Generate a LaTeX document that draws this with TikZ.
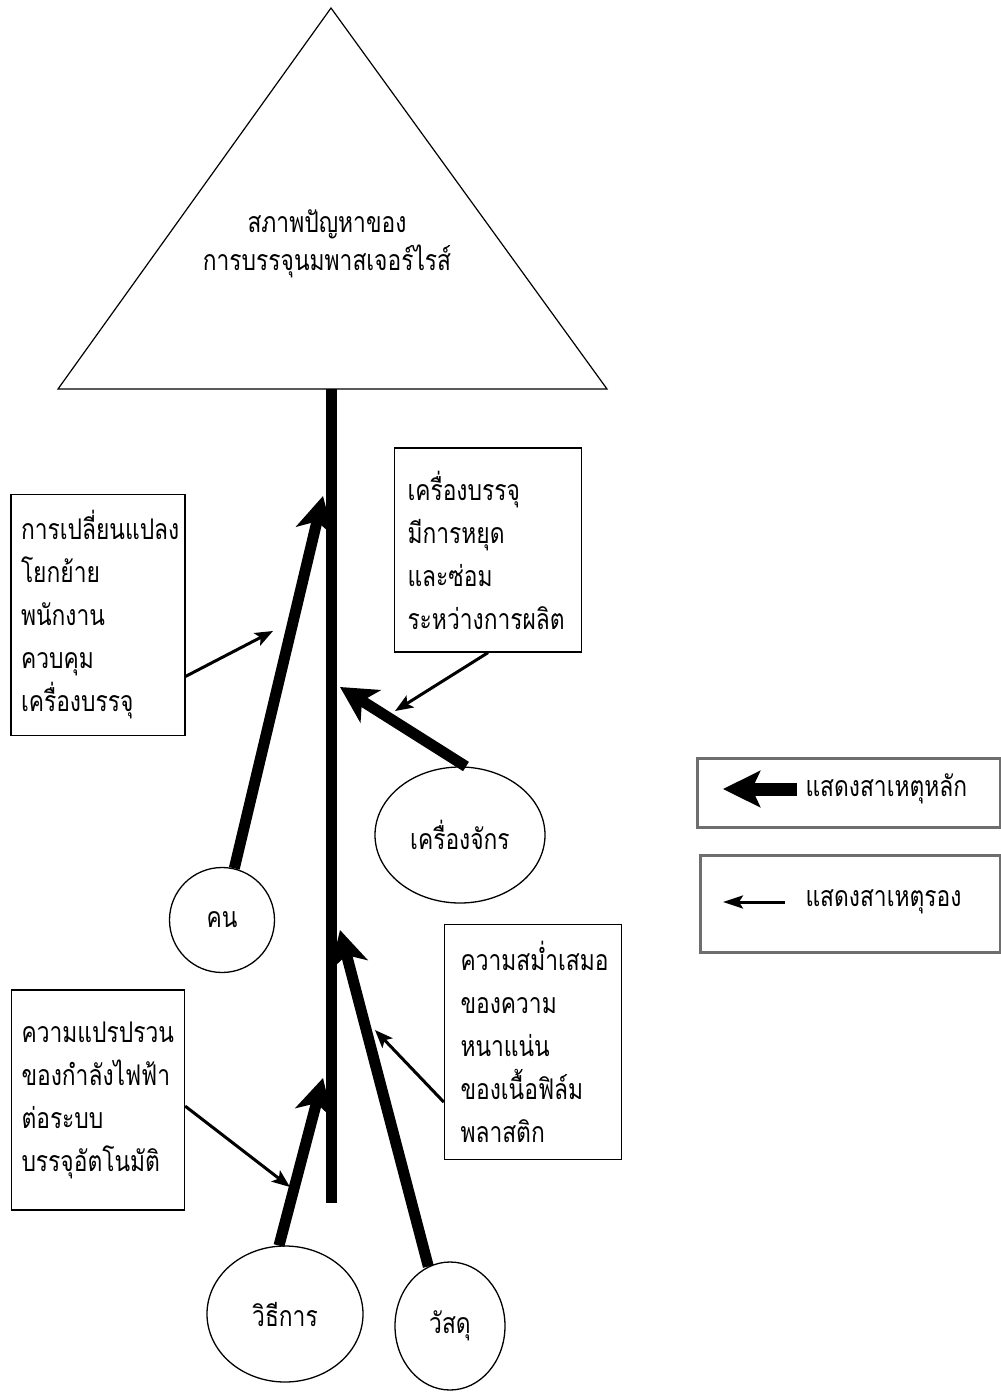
\documentclass[tikz,border=0pt]{standalone}
\usepackage{fontspec}
\newfontfamily\thaifont[Script=Thai,FakeStretch=0.8]{Loma}
\usetikzlibrary{arrows.meta,shapes.geometric}
\definecolor{legendgray}{HTML}{6E6E6E}
\tikzset{
  cause/.style={draw,line width=1.3pt,rectangle,align=left,inner ysep=0pt},
  group/.style={draw,line width=1.3pt,ellipse,inner sep=0pt},
  major/.style={line width=11pt,-{Stealth[length=36pt,width=38pt,inset=10pt]}},
  minor/.style={line width=3pt,-{Stealth[length=18pt,width=14pt,inset=4pt]}},
  legend/.style={draw=legendgray,line width=3pt}
}
\begin{document}
\begin{tikzpicture}[x=1pt,y=-1pt,font=\thaifont\fontsize{28.5}{43}\selectfont]
\useasboundingbox (0,0) rectangle (1001,1392);

\coordinate (apex) at (331,8);
\coordinate (bl) at (58,389);
\coordinate (br) at (607,389);
\draw[line width=1.2pt] (apex) -- (br) -- (bl) -- cycle;
\node[align=center,font=\thaifont\fontsize{28.5}{38}\selectfont] (prob) at (327,244)
  {สภาพปัญหาของ\\การบรรจุนมพาสเจอร์ไรส์};

\coordinate (top) at (331,389);
\coordinate (bot) at (331,1203);
\draw[line width=11pt] (top) -- (bot);

\node[cause,inner xsep=10pt,text width=154pt,minimum height=241pt] (lbox1) at (98,615)
  {การเปลี่ยนแปลง\\โยกย้าย\\พนักงาน\\ควบคุม\\เครื่องบรรจุ};
\node[cause,inner xsep=13pt,text width=161pt,minimum height=204pt] (rbox1) at (488,550)
  {เครื่องบรรจุ\\มีการหยุด\\และซ่อม\\ระหว่างการผลิต};
\node[cause,inner xsep=10pt,text width=153pt,minimum height=220pt] (lbox2) at (98,1100)
  {ความแปรปรวน\\ของกำลังไฟฟ้า\\ต่อระบบ\\บรรจุอัตโนมัติ};
\node[cause,inner xsep=16pt,text width=145pt,minimum height=235pt] (rbox2) at (533,1042)
  {ความสม่ำเสมอ\\ของความ\\หนาแน่น\\ของเนื้อฟิล์ม\\พลาสติก};

\node[group,minimum width=105pt,minimum height=105pt] (kon) at (222,920) {คน};
\node[group,minimum width=170pt,minimum height=136pt] (machine) at (460,835) {เครื่องจักร};
\node[group,minimum width=156pt,minimum height=136pt] (method) at (285,1314) {วิธีการ};
\node[group,minimum width=110pt,minimum height=128pt] (material) at (450,1326) {วัสดุ};

\coordinate (t1) at (323,496);
\coordinate (t2) at (340,687);
\coordinate (t3) at (340,930);
\coordinate (t4) at (323,1078);
\draw[major] (kon) -- (t1);
\draw[major] (machine.85) -- (t2);
\draw[major] (material.110) -- (t3);
\draw[major] (method.95) -- (t4);

\coordinate (m1) at (273,631);
\coordinate (m2) at (395,711);
\coordinate (m3) at (290,1187);
\coordinate (m4) at (375,1030);
\draw[minor] (lbox1.-35) -- (m1);
\draw[minor] (rbox1.south) -- (m2);
\draw[minor] (lbox2.-4) -- (m3);
\draw[minor] (rbox2.214) -- (m4);

\draw[legend] (697,758) rectangle (1000,827);
\draw[legend] (700,855) rectangle (1000,952);
\node[anchor=west] (lg1) at (802,789) {แสดงสาเหตุหลัก};
\node[anchor=west] (lg2) at (802,902) {แสดงสาเหตุรอง};
\coordinate (k1) at (723,789);
\coordinate (k2) at (723,902);
\draw[line width=13pt,-{Stealth[length=37pt,width=36pt,inset=8pt]}] (lg1.west) ++(-5,0) -- (k1);
\draw[line width=3pt,-{Stealth[length=20pt,width=13pt,inset=4pt]}] (lg2.west) ++(-17,0) -- (k2);
\end{tikzpicture}
\end{document}
